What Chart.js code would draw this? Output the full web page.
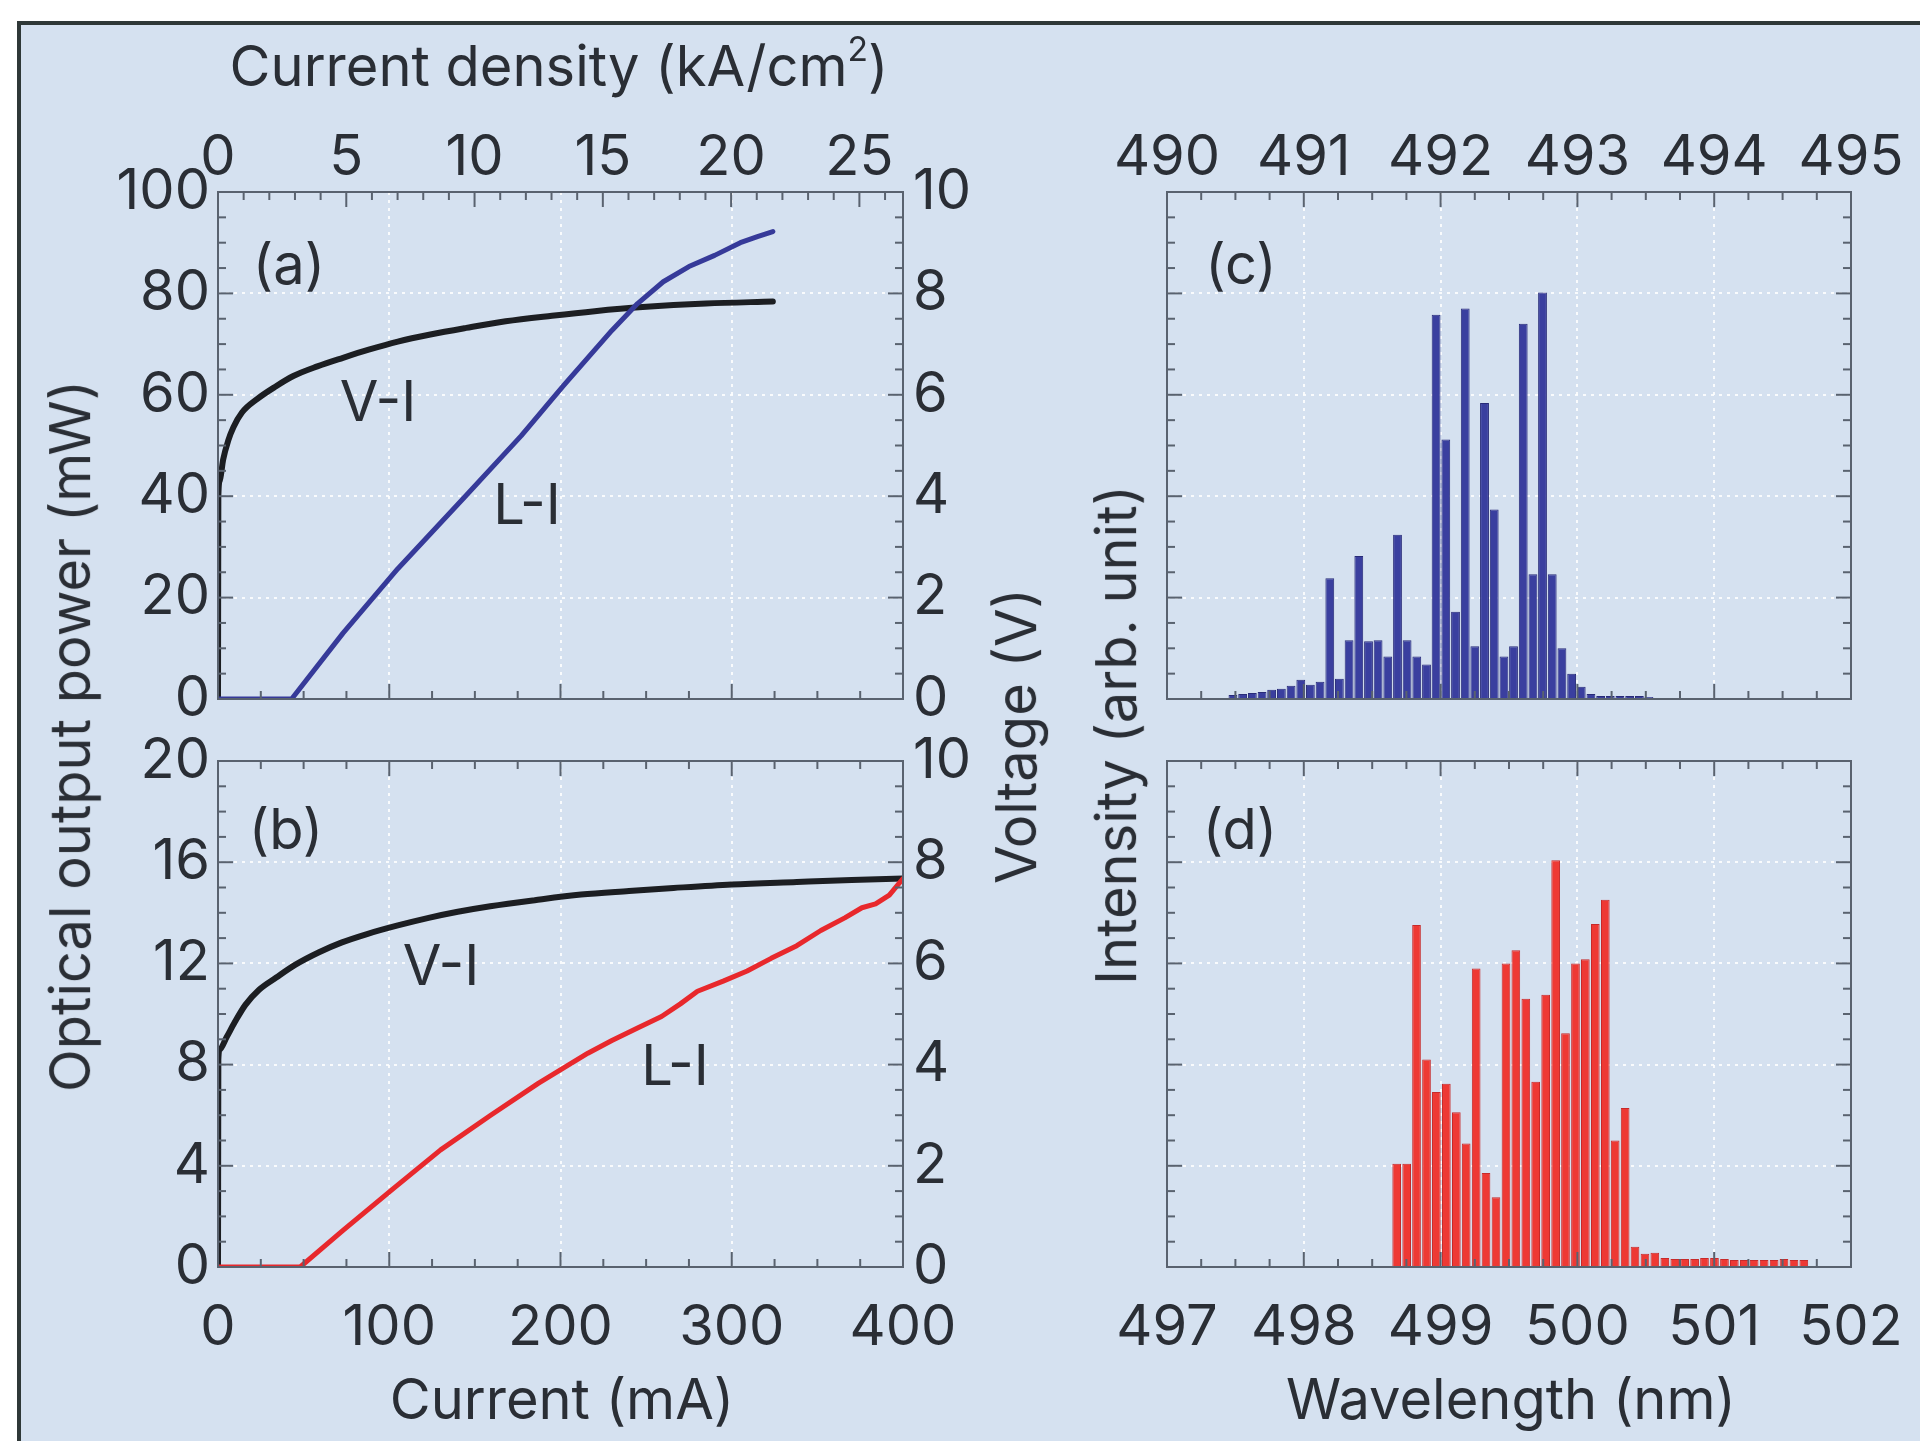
<!DOCTYPE html>
<html>
<head>
<meta charset="utf-8">
<script src="https://cdn.jsdelivr.net/npm/chart.js@4.4.1/dist/chart.umd.min.js"></script>
<style>
  html, body { margin: 0; padding: 0; background: #fff; overflow: hidden; }
  #page { position: relative; width: 1920px; height: 1441px; overflow: hidden; }
  #frame { position: absolute; left: 17px; top: 21px; width: 1960px; height: 1480px;
           background: #d5e1f0; border: 4px solid #2f3838; box-sizing: border-box; }
  canvas { position: absolute; left: 0; top: 0; }
  .lbl { position: absolute; font-family: Inter, "Liberation Sans", sans-serif; font-size: 56px;
         color: #2a2e35; white-space: nowrap; line-height: 1.21; transform: translate(-50%, -50%); }
  .rot { transform: translate(-50%, -50%) rotate(-90deg); }
  sup { font-size: 60%; vertical-align: 0.75em; line-height: 0; }
</style>
</head>
<body>
<div id="page">
  <div id="frame"></div>
  <canvas id="chartA" width="1920" height="1441"></canvas>
  <canvas id="chartB" width="1920" height="1441"></canvas>
  <canvas id="chartC" width="1920" height="1441"></canvas>
  <canvas id="chartD" width="1920" height="1441"></canvas>

  <div class="lbl" style="left:559px; top:67px">Current density (kA/cm<sup>2</sup>)</div>
  <div class="lbl" style="left:562px; top:1400px">Current (mA)</div>
  <div class="lbl" style="left:1511px; top:1400px">Wavelength (nm)</div>
  <div class="lbl rot" style="left:71px; top:736px">Optical output power (mW)</div>
  <div class="lbl rot" style="left:1017px; top:736px">Voltage (V)</div>
  <div class="lbl rot" style="left:1117px; top:735px">Intensity (arb. unit)</div>

  <div class="lbl" style="left:289px; top:265px">(a)</div>
  <div class="lbl" style="left:286px; top:830px">(b)</div>
  <div class="lbl" style="left:1241px; top:265px">(c)</div>
  <div class="lbl" style="left:1240px; top:830px">(d)</div>
  <div class="lbl" style="left:378px; top:402px">V-I</div>
  <div class="lbl" style="left:527px; top:505px">L-I</div>
  <div class="lbl" style="left:441px; top:966px">V-I</div>
  <div class="lbl" style="left:675px; top:1066px">L-I</div>
</div>

<script>
// ---- data ----
// (a) V-I and L-I, current in mA, voltage in V, power in mW
const currentVIa = [0, 0.2, 1, 3, 6, 9, 14, 23, 33, 44, 58, 73, 88, 105, 124, 145, 168, 195, 220, 248, 285, 324]
const voltageVIa = [0, 4.0, 4.3, 4.72, 5.1, 5.36, 5.65, 5.92, 6.15, 6.37, 6.56, 6.73, 6.89, 7.05, 7.19, 7.32, 7.45, 7.56, 7.65, 7.73, 7.80, 7.84]
const currentLIa = [0, 43, 73, 105, 145, 177, 202, 230, 245, 260, 275, 290, 305, 315, 324]
const powerLIa = [0, 0, 13.0, 25.7, 40.2, 51.9, 61.9, 72.7, 78.0, 82.3, 85.3, 87.5, 90.0, 91.2, 92.2]

// (b)
const currentVIb = [0, 0.2, 1, 5, 10, 16, 24, 34, 45, 59, 72, 87, 105, 123, 140, 159, 185, 212, 240, 266, 300, 338, 370, 400]
const voltageVIb = [0, 4.1, 4.3, 4.54, 4.85, 5.18, 5.48, 5.72, 5.97, 6.22, 6.41, 6.58, 6.75, 6.90, 7.02, 7.13, 7.25, 7.36, 7.43, 7.49, 7.56, 7.61, 7.65, 7.68]
const currentLIb = [0, 48, 73, 102, 130, 159, 187, 216, 230, 245, 259, 270, 280, 295, 309, 323, 338, 352, 366, 376, 384, 392, 400]
const powerLIb = [0, 0, 1.45, 3.08, 4.63, 5.99, 7.26, 8.45, 8.95, 9.45, 9.9, 10.4, 10.9, 11.3, 11.7, 12.2, 12.7, 13.3, 13.8, 14.2, 14.35, 14.7, 15.35]

// (c) spectrum, wavelength in nm (top axis), intensity in arb. units
const wavelengthC = [490.482, 490.553, 490.624, 490.695, 490.765, 490.836, 490.907, 490.978, 491.048, 491.119,
  491.190, 491.260, 491.331, 491.402, 491.473, 491.543, 491.614, 491.685, 491.755, 491.826,
  491.897, 491.967, 492.038, 492.109, 492.180, 492.250, 492.321, 492.392, 492.463, 492.533,
  492.604, 492.675, 492.745, 492.816, 492.887, 492.958, 493.028, 493.099, 493.170, 493.240,
  493.311, 493.382, 493.453, 493.523]
const intensityC = [0.04, 0.05, 0.06, 0.07, 0.09, 0.10, 0.13, 0.19, 0.14, 0.17,
  1.19, 0.20, 0.58, 1.41, 0.57, 0.58, 0.42, 1.62, 0.58, 0.42,
  0.34, 3.79, 2.56, 0.86, 3.85, 0.52, 2.92, 1.87, 0.42, 0.52,
  3.70, 1.23, 4.01, 1.23, 0.50, 0.25, 0.12, 0.05, 0.03, 0.03,
  0.03, 0.03, 0.03, 0.02]

// (d) spectrum, wavelength in nm (bottom axis)
const wavelengthD = [498.679, 498.752, 498.824, 498.897, 498.969, 499.042, 499.115, 499.187, 499.260, 499.332,
  499.405, 499.478, 499.550, 499.623, 499.695, 499.768, 499.841, 499.913, 499.986, 500.058,
  500.131, 500.204, 500.276, 500.349, 500.421, 500.494, 500.566, 500.639, 500.712, 500.784,
  500.857, 500.929, 501.002, 501.075, 501.147, 501.220, 501.292, 501.365, 501.438, 501.510,
  501.583, 501.655]
const intensityD = [1.02, 1.02, 3.38, 2.05, 1.73, 1.81, 1.53, 1.22, 2.95, 0.93,
  0.69, 3.00, 3.13, 2.65, 1.83, 2.69, 4.02, 2.31, 3.00, 3.04,
  3.39, 3.63, 1.25, 1.57, 0.20, 0.13, 0.14, 0.09, 0.08, 0.08,
  0.08, 0.09, 0.09, 0.08, 0.07, 0.07, 0.07, 0.07, 0.07, 0.08,
  0.07, 0.07]

// tick labels
const currentTicks = [0, 100, 200, 300, 400]
const densityTicks = [0, 5, 10, 15, 20, 25]
const powerTicksA = [0, 20, 40, 60, 80, 100]
const powerTicksB = [0, 4, 8, 12, 16, 20]
const voltageTicks = [0, 2, 4, 6, 8, 10]
const wavelengthTicksC = [490, 491, 492, 493, 494, 495]
const wavelengthTicksD = [497, 498, 499, 500, 501, 502]
const intensityTicks = [0, 1, 2, 3, 4, 5]

const DENSITY_MAX = 26.7

// ---- styling ----
const TEXT = '#2a2e35'
const AXIS = '#59626f'
const GRID = 'rgba(255,255,255,0.85)'

Chart.defaults.font.family = 'Inter, "Liberation Sans", sans-serif'
Chart.defaults.font.size = 56
Chart.defaults.color = TEXT
Chart.defaults.animation = false

const pts = (xs, ys) => xs.map((x, i) => ({ x: x, y: ys[i] }))
const fixTicks = (list) => (s) => { s.ticks = list.map(v => ({ value: v })) }
const fitW = (w) => (s) => { s.width = w }
// horizontal axes: fixed height, and no extra side padding for the end labels
const fitH = (h) => (s) => { s.height = h; s.paddingLeft = 0; s.paddingRight = 0 }

// box around the plot area and inward ticks on every side
const frameTicks = {
  id: 'frameTicks',
  afterDatasetsDraw(chart, args, opts) {
    const { ctx, chartArea: a } = chart
    ctx.save()
    ctx.strokeStyle = AXIS
    ctx.lineWidth = 2
    for (const t of opts.sides) {
      const s = chart.scales[t.scale]
      const n = Math.floor((s.max - s.min) / t.minor + 1e-6)
      for (let i = 0; i <= n; i++) {
        const v = s.min + i * t.minor
        const r = v / t.major
        const len = Math.abs(r - Math.round(r)) < 1e-6 ? 15 : 8
        const p = s.getPixelForValue(v)
        ctx.beginPath()
        if (t.side === 'bottom') { ctx.moveTo(p, a.bottom); ctx.lineTo(p, a.bottom - len) }
        if (t.side === 'top') { ctx.moveTo(p, a.top); ctx.lineTo(p, a.top + len) }
        if (t.side === 'left') { ctx.moveTo(a.left, p); ctx.lineTo(a.left + len, p) }
        if (t.side === 'right') { ctx.moveTo(a.right, p); ctx.lineTo(a.right - len, p) }
        ctx.stroke()
      }
    }
    ctx.strokeRect(a.left, a.top, a.right - a.left, a.bottom - a.top)
    ctx.restore()
  }
}

const gridOn = { color: GRID, lineWidth: 2, drawTicks: false }
const gridOff = { drawOnChartArea: false, drawTicks: false }
const noBorder = { display: false, dash: [3, 5] }

// V-I curves are smooth, L-I curves are straight segments with a sharp threshold
const smooth = { cubicInterpolationMode: 'monotone' }
const straight = { cubicInterpolationMode: 'default', tension: 0 }

function baseOptions(padding, scales, sides) {
  return {
    responsive: false,
    devicePixelRatio: 1,
    events: [],
    layout: { padding: padding },
    plugins: { legend: { display: false }, tooltip: { enabled: false }, frameTicks: { sides: sides } },
    elements: { point: { radius: 0 }, line: { borderCapStyle: 'round', borderJoinStyle: 'round' } },
    scales: scales
  }
}

// (a)
new Chart(document.getElementById('chartA'), {
  type: 'line',
  data: {
    datasets: [
      Object.assign({ data: pts(currentLIa, powerLIa), yAxisID: 'y', borderColor: '#363a99', borderWidth: 5 }, straight),
      Object.assign({ data: pts(currentVIa, voltageVIa), yAxisID: 'y2', borderColor: '#1c1e22', borderWidth: 6 }, smooth)
    ]
  },
  options: baseOptions({ left: 98, right: 897, top: 72, bottom: 732 }, {
    x: { type: 'linear', position: 'bottom', min: 0, max: 400, afterBuildTicks: fixTicks(currentTicks),
         ticks: { display: false }, grid: gridOn, border: noBorder, afterFit: fitH(10) },
    x2: { type: 'linear', position: 'top', min: 0, max: DENSITY_MAX, afterBuildTicks: fixTicks(densityTicks),
          ticks: { padding: 0, maxRotation: 0 }, grid: gridOff, border: { display: false }, afterFit: fitH(120) },
    y: { type: 'linear', position: 'left', min: 0, max: 100, afterBuildTicks: fixTicks(powerTicksA),
         ticks: { padding: 8 }, grid: gridOn, border: noBorder, afterFit: fitW(120) },
    y2: { type: 'linear', position: 'right', min: 0, max: 10, afterBuildTicks: fixTicks(voltageTicks),
          ticks: { padding: 10 }, grid: gridOff, border: { display: false }, afterFit: fitW(120) }
  }, [
    { scale: 'x', side: 'bottom', minor: 25, major: 100 },
    { scale: 'x2', side: 'top', minor: 1, major: 5 },
    { scale: 'y', side: 'left', minor: 5, major: 20 },
    { scale: 'y2', side: 'right', minor: 0.5, major: 2 }
  ]),
  plugins: [frameTicks]
})

// (b)
new Chart(document.getElementById('chartB'), {
  type: 'line',
  data: {
    datasets: [
      Object.assign({ data: pts(currentLIb, powerLIb), yAxisID: 'y', borderColor: '#e8282c', borderWidth: 5 }, straight),
      Object.assign({ data: pts(currentVIb, voltageVIb), yAxisID: 'y2', borderColor: '#1c1e22', borderWidth: 6 }, smooth)
    ]
  },
  options: baseOptions({ left: 98, right: 897, top: 761, bottom: 54 }, {
    x: { type: 'linear', position: 'bottom', min: 0, max: 400, afterBuildTicks: fixTicks(currentTicks),
         ticks: { padding: 28, maxRotation: 0 }, grid: gridOn, border: noBorder, afterFit: fitH(120) },
    y: { type: 'linear', position: 'left', min: 0, max: 20, afterBuildTicks: fixTicks(powerTicksB),
         ticks: { padding: 8 }, grid: gridOn, border: noBorder, afterFit: fitW(120) },
    y2: { type: 'linear', position: 'right', min: 0, max: 10, afterBuildTicks: fixTicks(voltageTicks),
          ticks: { padding: 10 }, grid: gridOff, border: { display: false }, afterFit: fitW(120) }
  }, [
    { scale: 'x', side: 'bottom', minor: 25, major: 100 },
    { scale: 'x', side: 'top', minor: 25, major: 100 },
    { scale: 'y', side: 'left', minor: 1, major: 4 },
    { scale: 'y2', side: 'right', minor: 0.5, major: 2 }
  ]),
  plugins: [frameTicks]
})

// (c)
new Chart(document.getElementById('chartC'), {
  type: 'bar',
  data: {
    datasets: [{
      data: pts(wavelengthC, intensityC), backgroundColor: '#3a3f9f', borderColor: '#282b78',
      borderWidth: 1, barPercentage: 0.92, categoryPercentage: 1
    }]
  },
  options: baseOptions({ left: 1167, right: 69, top: 72, bottom: 742 }, {
    x: { type: 'linear', position: 'top', min: 490, max: 495, offset: false, afterBuildTicks: fixTicks(wavelengthTicksC),
         ticks: { padding: 0, maxRotation: 0 }, grid: Object.assign({ offset: false }, gridOn), border: noBorder, afterFit: fitH(120) },
    y: { type: 'linear', position: 'left', min: 0, max: 5, afterBuildTicks: fixTicks(intensityTicks),
         ticks: { display: false }, grid: gridOn, border: noBorder, afterFit: fitW(0) }
  }, [
    { scale: 'x', side: 'bottom', minor: 0.25, major: 1 },
    { scale: 'x', side: 'top', minor: 0.25, major: 1 },
    { scale: 'y', side: 'left', minor: 0.25, major: 1 },
    { scale: 'y', side: 'right', minor: 0.25, major: 1 }
  ]),
  plugins: [frameTicks]
})

// (d)
new Chart(document.getElementById('chartD'), {
  type: 'bar',
  data: {
    datasets: [{
      data: pts(wavelengthD, intensityD), backgroundColor: '#ee3934', borderColor: '#c72a2a',
      borderWidth: 1, barPercentage: 0.88, categoryPercentage: 1
    }]
  },
  options: baseOptions({ left: 1167, right: 69, top: 761, bottom: 54 }, {
    x: { type: 'linear', position: 'bottom', min: 497, max: 502, offset: false, afterBuildTicks: fixTicks(wavelengthTicksD),
         ticks: { padding: 28, maxRotation: 0 }, grid: Object.assign({ offset: false }, gridOn), border: noBorder, afterFit: fitH(120) },
    y: { type: 'linear', position: 'left', min: 0, max: 5, afterBuildTicks: fixTicks(intensityTicks),
         ticks: { display: false }, grid: gridOn, border: noBorder, afterFit: fitW(0) }
  }, [
    { scale: 'x', side: 'bottom', minor: 0.25, major: 1 },
    { scale: 'x', side: 'top', minor: 0.25, major: 1 },
    { scale: 'y', side: 'left', minor: 0.25, major: 1 },
    { scale: 'y', side: 'right', minor: 0.25, major: 1 }
  ]),
  plugins: [frameTicks]
})
</script>
</body>
</html>
